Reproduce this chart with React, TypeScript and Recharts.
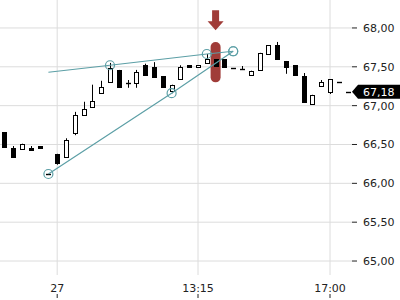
import {
  ComposedChart,
  Bar,
  Line,
  XAxis,
  YAxis,
  CartesianGrid,
  ReferenceArea,
  ReferenceDot,
  ReferenceLine,
} from "recharts";

const opens = [
  66.66, 66.455, 66.44, 66.455, 66.48, 66.12, 66.38, 66.34, 66.65, 66.88,
  66.98, 67.16, 67.3, 67.46, 67.29, 67.29, 67.52, 67.5, 67.38, 67.19,
  67.34, 67.52, 67.5, 67.55, 67.6, 67.6, 67.485, 67.47, 67.395, 67.46,
  67.665, 67.78, 67.575, 67.52, 67.38, 67.02, 67.25, 67.18, 67.305, 67.18,
];
const highs = [
  66.66, 66.48, 66.51, 66.48, 66.48, 66.12, 66.38, 66.58, 66.92, 67.05,
  67.27, 67.32, 67.55, 67.46, 67.33, 67.46, 67.54, 67.56, 67.38, 67.27,
  67.52, 67.52, 67.52, 67.665, 67.6, 67.6, 67.485, 67.51, 67.45, 67.68,
  67.78, 67.82, 67.575, 67.52, 67.42, 67.14, 67.33, 67.34, 67.305, 67.18,
];
const lows = [
  66.47, 66.34, 66.44, 66.43, 66.455, 66.12, 66.24, 66.34, 66.62, 66.88,
  66.98, 67.15, 67.3, 67.24, 67.23, 67.23, 67.39, 67.37, 67.23, 67.16,
  67.34, 67.5, 67.5, 67.55, 67.51, 67.5, 67.485, 67.47, 67.395, 67.46,
  67.665, 67.6, 67.41, 67.395, 67.05, 67.02, 67.24, 67.15, 67.305, 67.18,
];
const closes = [
  66.47, 66.34, 66.51, 66.43, 66.455, 66.12, 66.26, 66.56, 66.88, 66.96,
  67.06, 67.24, 67.48, 67.24, 67.29, 67.43, 67.39, 67.37, 67.24, 67.27,
  67.5, 67.5, 67.52, 67.6, 67.51, 67.5, 67.485, 67.47, 67.45, 67.68,
  67.78, 67.6, 67.5, 67.395, 67.05, 67.14, 67.305, 67.34, 67.305, 67.18,
];

const xTickIndex = [6, 22, 37];
const xTickLabels = ["27", "13:15", "17:00"];
const priceTicks = [65, 65.5, 66, 66.5, 67, 67.5, 68];

// trend lines: [candle index, price]
const upperTrend = [[5, 67.43], [12, 67.52], [23, 67.665], [26, 67.7]];
const lowerTrend = [[5, 66.12], [19, 67.16], [26, 67.7]];
const upperMarks = [12, 23, 26];
const lowerMarks = [5, 19, 26];

const signalIndex = 24;
const signalRange = [67.3, 67.82];
const arrowPrice = 68.1;
const lastPrice = 67.18;

const TEAL = "#5c9fa6";
const RED = "#a03c38";
const FONT = "DejaVu Sans";

const pick = (pts: number[][], i: number) => {
  const p = pts.find((q) => q[0] === i);
  return p ? p[1] : null;
};

const data = opens.map((open, i) => ({
  i,
  open,
  high: highs[i],
  low: lows[i],
  close: closes[i],
  upper: pick(upperTrend, i),
  lower: pick(lowerTrend, i),
}));

function Candle(props: any) {
  const { x, y, width, height, payload } = props;
  const { open, close, high, low } = payload;
  const top = Math.min(y, y + height);
  const h = Math.abs(height);
  const k = high > low ? h / (high - low) : 0;
  const py = (v: number) => top + (high - v) * k;
  const cx = Math.round(x + width / 2) + 0.5;
  const up = close >= open;
  const bTop = Math.round(py(Math.max(open, close))) + 0.5;
  const bBot = Math.round(py(Math.min(open, close))) + 0.5;
  return (
    <g>
      {h > 0 && <line x1={cx} x2={cx} y1={top} y2={top + h} stroke="#000" />}
      {bBot - bTop < 1 ? (
        <line x1={cx - 2.5} x2={cx + 2.5} y1={bTop} y2={bTop} stroke="#000" strokeWidth={1.4} />
      ) : (
        <rect x={cx - 2} y={bTop} width={4} height={bBot - bTop} fill={up ? "#fff" : "#000"} stroke="#000" />
      )}
    </g>
  );
}

const trendDot = (marks: number[]) => (props: any) => {
  const { cx, cy, payload, value } = props;
  if (value == null || !marks.includes(payload.i)) return <g key={payload.i} />;
  return <circle key={payload.i} cx={cx} cy={cy} r={4.5} fill="none" stroke={TEAL} strokeWidth={1.2} />;
};

function TimeTick({ x, y, payload }: any) {
  const label = xTickLabels[xTickIndex.indexOf(payload.value)];
  return (
    <g>
      <text x={x} y={y + 17} textAnchor="middle" fontSize={11} fontFamily={FONT} fill="#222">
        {label}
      </text>
      <line x1={x} x2={x} y1={y + 19} y2={y + 23} stroke="#222" />
    </g>
  );
}

function PriceTag({ viewBox }: any) {
  const { x, y, width } = viewBox;
  const left = x + width;
  return (
    <g>
      <polygon
        points={`${left},${y} ${left + 6},${y - 7} ${left + 48},${y - 7} ${left + 48},${y + 7} ${left + 6},${y + 7}`}
        fill="#000"
      />
      <text x={left + 11} y={y + 4} fontSize={11} fontFamily={FONT} fill="#fff">
        {lastPrice.toFixed(2).replace(".", ",")}
      </text>
    </g>
  );
}

function SignalBar(props: any) {
  const { x, y, width, height } = props;
  const cx = x + width / 2;
  return <rect x={cx - 5} y={y} width={10} height={height} rx={5} fill={RED} />;
}

function SignalArrow({ cx, cy }: any) {
  return (
    <polygon
      points={`${cx - 3.5},${cy - 10} ${cx + 3.5},${cy - 10} ${cx + 3.5},${cy + 1} ${cx + 8},${cy + 1} ${cx},${cy + 10} ${cx - 8},${cy + 1} ${cx - 3.5},${cy + 1}`}
      fill={RED}
    />
  );
}

export default function App() {
  return (
    <div style={{ position: "absolute", left: 0, top: 0, background: "#fff" }}>
      <ComposedChart width={400} height={300} data={data} margin={{ top: 0, right: 0, bottom: 0, left: 0 }}>
        <CartesianGrid stroke="#dcdcdc" syncWithTicks />
        <XAxis
          dataKey="i"
          type="category"
          ticks={xTickIndex}
          interval={0}
          height={25}
          tickSize={0}
          tickMargin={0}
          axisLine={false}
          tickLine={false}
          tick={<TimeTick />}
        />
        <YAxis
          orientation="right"
          width={48}
          domain={[64.82, 68.36]}
          ticks={priceTicks}
          allowDataOverflow
          axisLine={false}
          tickSize={5}
          tickMargin={6}
          tickLine={{ stroke: "#222" }}
          tick={{ fontSize: 11, fontFamily: FONT, fill: "#222" }}
          tickFormatter={(v) => Number(v).toFixed(2).replace(".", ",")}
        />
        <ReferenceArea
          x1={signalIndex}
          x2={signalIndex}
          y1={signalRange[0]}
          y2={signalRange[1]}
          shape={<SignalBar />}
        />
        <ReferenceDot x={signalIndex} y={arrowPrice} shape={<SignalArrow />} />
        <Bar dataKey={(d: any) => [d.low, d.high]} shape={<Candle />} isAnimationActive={false} />
        <Line
          dataKey="upper"
          connectNulls
          stroke={TEAL}
          strokeWidth={1.2}
          dot={trendDot(upperMarks)}
          activeDot={false}
          isAnimationActive={false}
        />
        <Line
          dataKey="lower"
          connectNulls
          stroke={TEAL}
          strokeWidth={1.2}
          dot={trendDot(lowerMarks)}
          activeDot={false}
          isAnimationActive={false}
        />
        <ReferenceLine y={lastPrice} stroke="none" label={(p: any) => <PriceTag viewBox={p.viewBox} />} />
      </ComposedChart>
    </div>
  );
}
